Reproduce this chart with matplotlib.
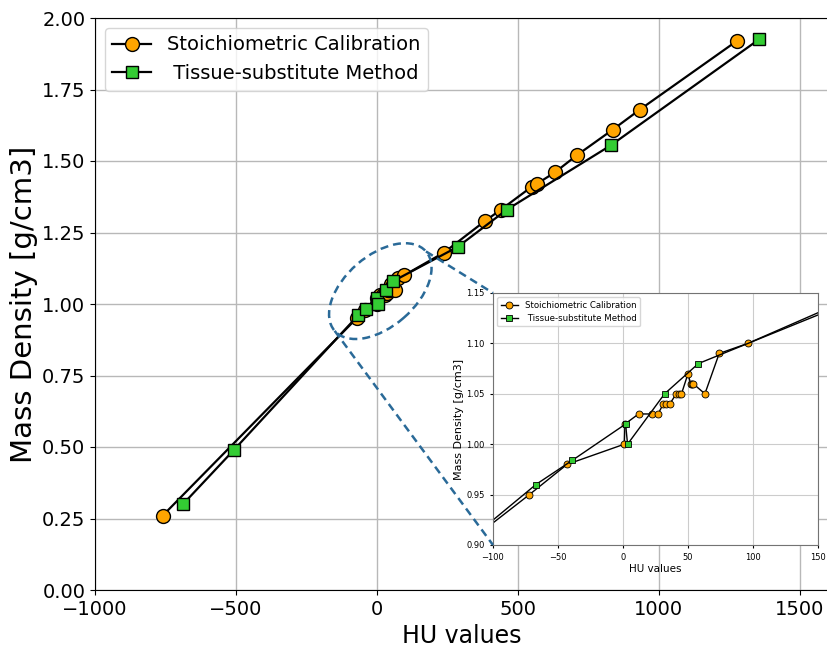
import numpy as np
from matplotlib import pyplot as plt
from matplotlib.patches import Ellipse
from matplotlib.lines import Line2D
import matplotlib.transforms as mtransforms

# Stoichiometric Calibration (orange circles)
hu_stoich = [-760, -72, -43, 1, 1.5, 12, 22, 27, 31, 33, 36, 41, 43, 45, 50, 52, 53, 54,
             63, 74, 96, 238, 383, 440, 549, 567, 631, 709, 837, 933, 1277]
rho_stoich = [0.26, 0.95, 0.98, 1.00, 1.02, 1.03, 1.03, 1.03, 1.04, 1.04, 1.04, 1.05, 1.05,
              1.05, 1.07, 1.06, 1.06, 1.06, 1.05, 1.09, 1.10, 1.18, 1.29, 1.33, 1.41, 1.42,
              1.46, 1.52, 1.61, 1.68, 1.92]

# Tissue-substitute Method (green squares)
hu_tissue = [-688, -507, -67, -39, 2, 3.5, 32, 58, 287, 461, 830, 1355]
rho_tissue = [0.30, 0.49, 0.96, 0.984, 1.02, 1.00, 1.05, 1.08, 1.20, 1.33, 1.555, 1.925]

lab1 = "Stoichiometric Calibration"
lab2 = " Tissue-substitute Method"

orange = "#FFA500"
green = "#33CC33"
dash_col = "#2a6a98"

fig = plt.figure(figsize=(8.28, 6.53), dpi=100)
ax = fig.add_axes([95/828, 1 - 590/653, 733/828, 572/653])

ax.plot(hu_stoich, rho_stoich, "k-", lw=1.6, marker="o", ms=10,
        mfc=orange, mec="k", mew=1, label=lab1)
ax.plot(hu_tissue, rho_tissue, "k-", lw=1.6, marker="s", ms=9,
        mfc=green, mec="k", mew=1, label=lab2)

ax.set_xlim(-1000, 1600)
ax.set_ylim(0, 2)
ax.set_xticks([-1000, -500, 0, 500, 1000, 1500])
ax.set_yticks(np.arange(0, 2.01, 0.25))
ax.tick_params(labelsize=14)
ax.set_xlabel("HU values", fontsize=17)
ax.set_ylabel("Mass Density [g/cm3]", fontsize=21, labelpad=3)
ax.grid(color="#b8b8b8", lw=1)
ax.legend(loc="upper left", fontsize=14)

# zoomed region marker
ell_x, ell_y = 12, 1.045
ell_w, ell_h, ell_ang = 1.21, 0.71, 41
trans = fig.dpi_scale_trans + mtransforms.ScaledTranslation(ell_x, ell_y, ax.transData)
ax.add_patch(Ellipse((0, 0), ell_w, ell_h, angle=ell_ang, transform=trans, fill=False,
                     ec=dash_col, lw=1.8, ls=(0, (3.2, 2)), zorder=5))

# inset
axins = fig.add_axes([493/828, 1 - 545/653, 325/828, 252/653])
axins.plot(hu_stoich, rho_stoich, "k-", lw=1, marker="o", ms=5,
           mfc=orange, mec="k", mew=0.6, label=lab1.strip())
axins.plot(hu_tissue, rho_tissue, "k-", lw=1, marker="s", ms=4.5,
           mfc=green, mec="k", mew=0.6, label=lab2)
axins.set_xlim(-100, 150)
axins.set_ylim(0.90, 1.15)
axins.set_xticks([-100, -50, 0, 50, 100, 150])
axins.set_yticks(np.arange(0.90, 1.151, 0.05))
axins.tick_params(labelsize=6, length=2.5)
axins.set_xlabel("HU values", fontsize=7.5, labelpad=1)
axins.set_ylabel("Mass Density [g/cm3]", fontsize=8, labelpad=2)
axins.grid(color="#cccccc", lw=0.8)
for s in axins.spines.values():
    s.set_color("0.45")
axins.legend(loc="upper left", fontsize=6.2)

# connector lines from the ellipse tips to the inset corners
c = ax.transData.transform((ell_x, ell_y))
r = ell_w / 2 * fig.dpi
t = np.deg2rad(ell_ang)
tip_up = c + r * np.array([np.cos(t), np.sin(t)])
tip_lo = c - r * np.array([np.cos(t), np.sin(t)])
cor_up = axins.transAxes.transform((0, 1))
cor_lo = axins.transAxes.transform((0, 0))
inv = fig.transFigure.inverted()
for p, q in [(tip_up, cor_up), (tip_lo, cor_lo)]:
    p, q = inv.transform(p), inv.transform(q)
    fig.add_artist(Line2D([p[0], q[0]], [p[1], q[1]], transform=fig.transFigure,
                          color=dash_col, lw=1.8, ls=(0, (3.2, 2)), zorder=3))

fig.savefig("out.png", dpi=100)
